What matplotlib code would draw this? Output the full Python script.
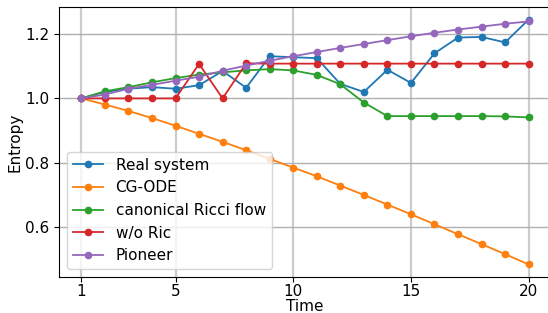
import numpy as np
import matplotlib
matplotlib.use("Agg")
import matplotlib.pyplot as plt

time = list(range(1, 21))

real_system = [1.000, 1.020, 1.030, 1.035, 1.030, 1.041, 1.085, 1.033, 1.131, 1.128,
               1.125, 1.045, 1.020, 1.089, 1.048, 1.140, 1.189, 1.191, 1.174, 1.245]
cg_ode = [1.000, 0.981, 0.961, 0.939, 0.915, 0.890, 0.865, 0.839, 0.812, 0.785,
          0.758, 0.729, 0.700, 0.670, 0.640, 0.609, 0.578, 0.547, 0.516, 0.484]
ricci_flow = [1.000, 1.022, 1.035, 1.050, 1.063, 1.074, 1.081, 1.087, 1.091, 1.087,
              1.073, 1.044, 0.987, 0.945, 0.945, 0.945, 0.945, 0.945, 0.944, 0.941]
wo_ric = [1.000, 1.000, 1.000, 1.000, 1.000, 1.107, 1.000, 1.109, 1.108, 1.108,
          1.108, 1.108, 1.108, 1.108, 1.108, 1.108, 1.108, 1.108, 1.108, 1.108]
pioneer = [1.000, 1.012, 1.030, 1.042, 1.055, 1.067, 1.086, 1.102, 1.117, 1.131,
           1.144, 1.157, 1.169, 1.181, 1.193, 1.204, 1.214, 1.223, 1.232, 1.239]

series = [("Real system", real_system, "#1f77b4"),
          ("CG-ODE", cg_ode, "#ff7f0e"),
          ("canonical Ricci flow", ricci_flow, "#2ca02c"),
          ("w/o Ric", wo_ric, "#d62728"),
          ("Pioneer", pioneer, "#9467bd")]

fig = plt.figure(figsize=(5.48, 3.13), dpi=100)
ax = fig.add_axes([59 / 548, 1 - 277 / 313, 492 / 548, 270 / 313])

for label, vals, color in series:
    ax.plot(time, vals, '-o', color=color, label=label, markersize=4.5, linewidth=1.3)

ax.set_xlim(0.05, 20.95)
ax.set_ylim(0.445, 1.284)
ax.set_xticks([1, 5, 10, 15, 20])
ax.set_yticks([0.6, 0.8, 1.0, 1.2])
ax.xaxis.grid(True, color='#cccccc', linewidth=1.6)
ax.yaxis.grid(True, color='#b0b0b0', linewidth=1.0)
ax.set_axisbelow(True)
ax.tick_params(labelsize=11)
ax.tick_params(axis='x', pad=1.5)
ax.set_xlabel("Time", fontsize=11, labelpad=0)
ax.set_ylabel("Entropy", fontsize=11, labelpad=2)
ax.legend(loc='lower left', fontsize=11, handlelength=2.0, borderaxespad=0.5)

fig.savefig("out.png", dpi=100)
